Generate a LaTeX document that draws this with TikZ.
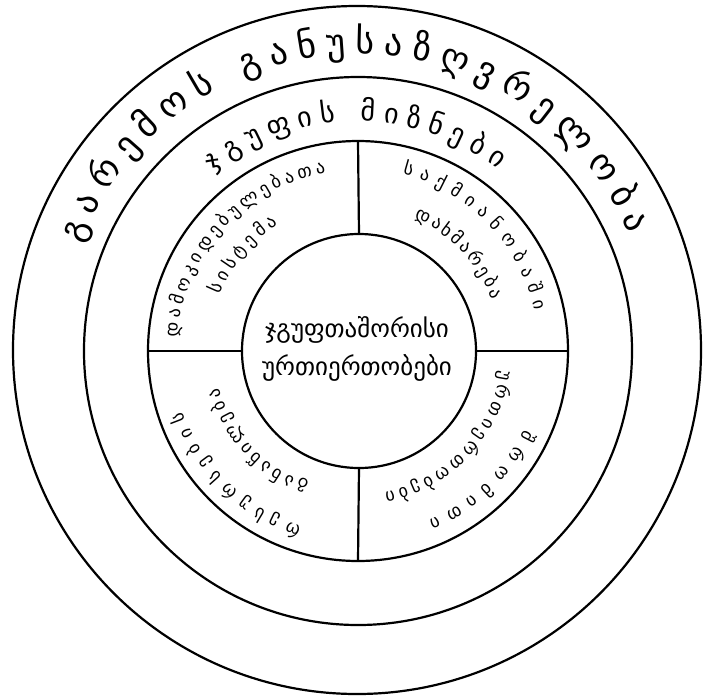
\documentclass[tikz,border=0pt]{standalone}
\usepackage{fontspec}
\newfontfamily\geofont{DejaVu Sans}
\usepackage{tikz}
\usetikzlibrary{decorations.text}

\tikzset{
  ringline/.style={draw, circle, line width=2.2pt, inner sep=0pt, outer sep=0pt},
  spoke/.style={line width=2.2pt},
  arclabel/.style 2 args={decorate, decoration={text along path,
      text align=fit to path, text={|\geofont\fontsize{#1}{#1}\selectfont|#2}}}
}

\begin{document}
\begin{tikzpicture}[x=1pt, y=1pt]
  \useasboundingbox (-357,-347) rectangle (346,350);
  \node[ringline, minimum size=688pt] (outer) at (0,0) {};
  \node[ringline, minimum size=548pt] (goals) at (1,-1) {};
  \node[ringline, minimum size=420pt] (ring) at (1,-1) {};
  \node[ringline, minimum size=234pt] (core) at (2,-1) {};
  \draw[spoke] (core.north) -- (ring.north);
  \draw[spoke] (core.south) -- (ring.south);
  \draw[spoke] (core.west) -- (ring.west);
  \draw[spoke] (core.east) -- (ring.east);
  \node[font=\geofont\fontsize{25}{38}\selectfont, align=center] (centre) at (0,1)
    {ჯგუფთაშორისი\\ურთიერთობები};
  \path[arclabel={36}{გარემოს განუსაზღვრელობა}]
    (159:296) arc[start angle=159, end angle=23, radius=296];
  \path[arclabel={28}{ჯგუფის მიზნები}]
    (129:229) arc[start angle=129, end angle=52, radius=229];
  \path[arclabel={18}{დამოკიდებულებათა}]
    (176:180) arc[start angle=176, end angle=100, radius=180];
  \path[arclabel={18}{სისტემა}]
    (158:148) arc[start angle=158, end angle=122, radius=148];
  \path[arclabel={18}{საქმიანობაში}]
    (75.5:182) arc[start angle=75.5, end angle=12.5, radius=182];
  \path[arclabel={18}{დახმარება}]
    (66.5:144) arc[start angle=66.5, end angle=20.5, radius=144];
  \path[arclabel={18}{რესურსების}]
    (-107.5:185) arc[start angle=-107.5, end angle=-160.5, radius=185];
  \path[arclabel={18}{განაწილება}]
    (-110:143) arc[start angle=-110, end angle=-164.5, radius=143];
  \path[arclabel={18}{შრომითი}]
    (-25.5:185) arc[start angle=-25.5, end angle=-67, radius=185];
  \path[arclabel={18}{ურთიერთობები}]
    (-8:145) arc[start angle=-8, end angle=-79, radius=145];
\end{tikzpicture}
\end{document}
